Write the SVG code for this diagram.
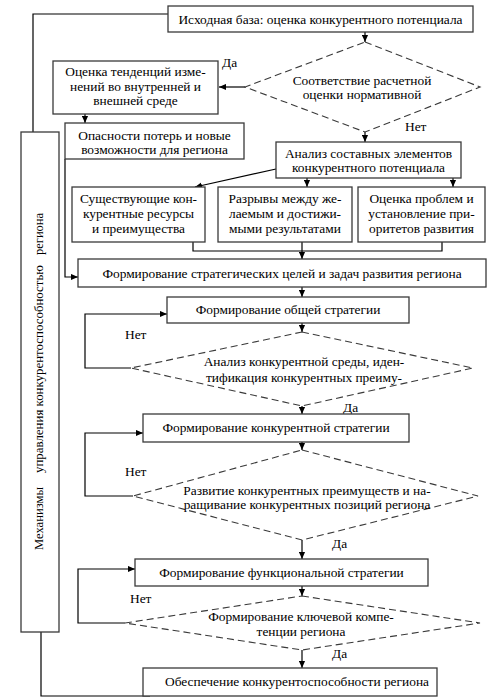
<svg xmlns="http://www.w3.org/2000/svg" width="500" height="700" viewBox="0 0 500 700">
<defs>
<marker id="ah" viewBox="0 0 8 8" refX="8" refY="4" markerWidth="7" markerHeight="7" markerUnits="userSpaceOnUse" orient="auto">
<path d="M0,0.5 L8,4 L0,7.5 Z" fill="#000"/>
</marker>
<style>
.b{fill:#fff;stroke:#3a3a3a;stroke-width:1.3}
.d{fill:none;stroke:#3a3a3a;stroke-width:1.1;stroke-dasharray:7,4}
.c{fill:none;stroke:#000;stroke-width:1.2}
.a{marker-end:url(#ah)}
text{font-family:"Liberation Serif","Times New Roman",serif;font-size:13.4px;fill:#000}
.m{text-anchor:middle}
</style>
</defs>
<rect width="500" height="700" fill="#fff"/>
<g id="connectors">
<polyline class="c" points="168,14 33,14 33,132"/>
<line class="c a" x1="365" y1="32" x2="365" y2="42"/>
<line class="c a" x1="245" y1="87" x2="219" y2="87"/>
<line class="c a" x1="85" y1="114" x2="85" y2="123"/>
<polyline class="c a" points="65,159 65,277 78,277"/>
<line class="c a" x1="365" y1="132" x2="365" y2="142"/>
<line class="c a" x1="276" y1="169" x2="195" y2="187"/>
<line class="c a" x1="307" y1="178" x2="307" y2="187"/>
<line class="c a" x1="453" y1="178" x2="453" y2="187"/>
<polyline class="c" points="193,242 193,251 442,251 442,242"/>
<line class="c a" x1="302" y1="242" x2="302" y2="259"/>
<line class="c a" x1="302" y1="287" x2="302" y2="297"/>
<line class="c a" x1="302" y1="323" x2="302" y2="332"/>
<polyline class="c a" points="131,368 85,368 85,314 167,314"/>
<line class="c a" x1="302" y1="406" x2="302" y2="414"/>
<line class="c a" x1="302" y1="442" x2="302" y2="450"/>
<polyline class="c a" points="133,496 85,496 85,433 143,433"/>
<line class="c a" x1="302" y1="540" x2="302" y2="559"/>
<line class="c a" x1="302" y1="586" x2="302" y2="596"/>
<polyline class="c a" points="125,623 78,623 78,569 135,569"/>
<line class="c a" x1="302" y1="650" x2="302" y2="668"/>
<polyline class="c" points="41,632 41,696 150,696"/>
<text x="222" y="67">Да</text>
<text x="405" y="131">Нет</text>
<text x="125" y="339">Нет</text>
<text x="343" y="412">Да</text>
<text x="125" y="476">Нет</text>
<text x="332" y="548">Да</text>
<text x="130" y="603">Нет</text>
<text x="332" y="658">Да</text>
</g>
<g id="n-start">
<rect class="b" x="168" y="6" width="305" height="26"/>
<text class="m" x="320.5" y="23.5">Исходная база: оценка конкурентного потенциала</text>
</g>
<g id="n-d1">
<polygon class="d" points="365,42 480,87 365,132 245,87"/>
<text class="m" x="362" y="84.5">Соответствие расчетной</text>
<text class="m" x="362" y="98.5">оценки нормативной</text>
</g>
<g id="n-trends">
<rect class="b" x="53" y="61" width="165" height="53"/>
<text class="m" x="135.5" y="75.5">Оценка тенденций изме-</text>
<text class="m" x="135.5" y="90.5">нений во внутренней  и</text>
<text class="m" x="135.5" y="104.5">внешней среде</text>
</g>
<g id="n-danger">
<rect class="b" x="65" y="123" width="179" height="36"/>
<text class="m" x="154.5" y="139.5">Опасности потерь и новые</text>
<text class="m" x="154.5" y="153.5">возможности для региона</text>
</g>
<g id="n-analysis">
<rect class="b" x="276" y="142" width="185" height="36"/>
<text class="m" x="368.5" y="157.5">Анализ составных элементов</text>
<text class="m" x="368.5" y="171.5">конкурентного потенциала</text>
</g>
<g id="n-res">
<rect class="b" x="72" y="187" width="133" height="55"/>
<text class="m" x="138.5" y="202.5">Существующие кон-</text>
<text class="m" x="138.5" y="218">курентные ресурсы</text>
<text class="m" x="138.5" y="232.5">и преимущества</text>
</g>
<g id="n-gaps">
<rect class="b" x="218" y="187" width="134" height="55"/>
<text class="m" x="285" y="202.5">Разрывы между же-</text>
<text class="m" x="285" y="218">лаемым и достижи-</text>
<text class="m" x="285" y="232.5">мыми результатами</text>
</g>
<g id="n-problems">
<rect class="b" x="358" y="187" width="127" height="55"/>
<text class="m" x="421.5" y="202.5">Оценка проблем и</text>
<text class="m" x="421.5" y="218">установление при-</text>
<text class="m" x="421.5" y="232.5">оритетов развития</text>
</g>
<g id="n-goals">
<rect class="b" x="78" y="259" width="408" height="28"/>
<text class="m" x="282" y="277.5">Формирование стратегических целей и задач развития  региона</text>
</g>
<g id="n-general">
<rect class="b" x="167" y="297" width="242" height="26"/>
<text class="m" x="288" y="313.5">Формирование общей стратегии</text>
</g>
<g id="n-d2">
<polygon class="d" points="302,332 473,368 302,406 131,368"/>
<text class="m" x="304" y="365.5">Анализ конкурентной среды, иден-</text>
<text class="m" x="304" y="381.5">тификация конкурентных преиму-</text>
</g>
<g id="n-compet">
<rect class="b" x="143" y="414" width="266" height="28"/>
<text class="m" x="276" y="431.5">Формирование  конкурентной стратегии</text>
</g>
<g id="n-d3">
<polygon class="d" points="302,450 478,496 302,540 133,496"/>
<text class="m" x="307" y="494.5">Развитие конкурентных преимуществ и на-</text>
<text class="m" x="307" y="508.5">ращивание конкурентных позиций региона</text>
</g>
<g id="n-func">
<rect class="b" x="135" y="559" width="293" height="27"/>
<text class="m" x="281.5" y="576.5">Формирование  функциональной стратегии</text>
</g>
<g id="n-d4">
<polygon class="d" points="302,596 480,623 302,650 125,623"/>
<text class="m" x="301" y="620.5">Формирование ключевой компе-</text>
<text class="m" x="301" y="635.5">тенции региона</text>
</g>
<g id="n-final">
<rect class="b" x="143" y="668" width="294" height="28"/>
<text class="m" x="297" y="685.5">Обеспечение  конкурентоспособности региона</text>
</g>
<g id="n-mech">
<rect class="b" x="21" y="132" width="38" height="500"/>
<g transform="translate(43,550) rotate(-90)">
<text x="0" y="0" textLength="63" lengthAdjust="spacingAndGlyphs">Механизмы</text>
<text x="77" y="0" textLength="208" lengthAdjust="spacingAndGlyphs">управления конкурентоспособностью</text>
<text x="295" y="0" textLength="42" lengthAdjust="spacingAndGlyphs">региона</text>
</g>
</g>
</svg>
